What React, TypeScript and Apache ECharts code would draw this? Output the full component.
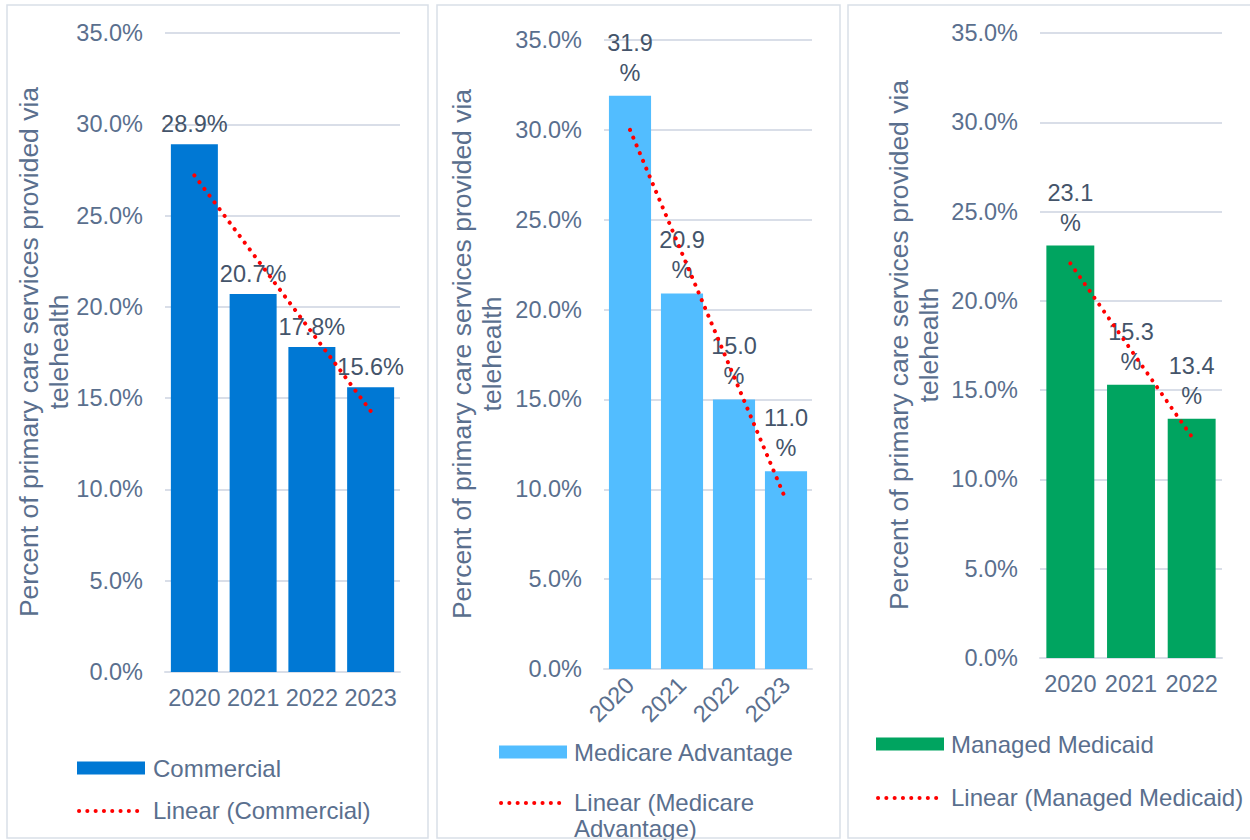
import React, { useEffect, useRef } from "react";
import * as echarts from "echarts";

// ---- Data ----
const yearsA = ["2020", "2021", "2022", "2023"];
const yearsB = ["2020", "2021", "2022", "2023"];
const yearsC = ["2020", "2021", "2022"];

const commercial = [28.9, 20.7, 17.8, 15.6];
const commercialTrend = [27.2, null, null, 14.3];

const medicare = [31.9, 20.9, 15.0, 11.0];
const medicareTrend = [30.0, null, null, 9.4];

const medicaid = [23.1, 15.3, 13.4];
const medicaidTrend = [22.1, null, 12.4];

const yMax = 35;
const yInterval = 5;

const yTitle = "Percent of primary care services provided via\ntelehealth";

const FONT = "'Liberation Sans', Arial, sans-serif";
const TICK_COLOR = "#5A6F8E";
const LABEL_COLOR = "#44546A";
const GRID_COLOR = "#D9DEE8";
const TREND_COLOR = "#FF0000";

export default function App() {
  const ref = useRef<HTMLDivElement>(null);

  useEffect(() => {
    if (!ref.current) return;
    const chart = echarts.init(ref.current, null, { renderer: "svg" });

    const grids = [
      { left: 165, width: 235, top: 33, height: 639 },
      { left: 604, width: 208, top: 40, height: 629 },
      { left: 1040, width: 182, top: 33, height: 625 },
    ];
    const cats = [yearsA, yearsB, yearsC];
    const bars = [commercial, medicare, medicaid];
    const trends = [commercialTrend, medicareTrend, medicaidTrend];
    const names = ["Commercial", "Medicare Advantage", "Managed Medicaid"];
    const colors = ["#0078D4", "#52BDFF", "#00A460"];
    const gaps = ["20%", "19%", "21%"];

    const xAxis = cats.map((c, i) => ({
      type: "category",
      gridIndex: i,
      data: c,
      axisTick: { show: false },
      axisLine: { lineStyle: { color: GRID_COLOR, width: 2 } },
      axisLabel: {
        color: TICK_COLOR,
        fontSize: 23.5,
        fontFamily: FONT,
        margin: i === 1 ? 12 : 14,
        rotate: i === 1 ? 45 : 0,
        interval: 0,
      },
    }));

    const yAxis = cats.map((_, i) => ({
      type: "value",
      gridIndex: i,
      min: 0,
      max: yMax,
      interval: yInterval,
      axisLine: { show: false },
      axisTick: { show: false },
      splitLine: { lineStyle: { color: GRID_COLOR, width: 2 } },
      axisLabel: {
        color: TICK_COLOR,
        fontSize: 23.5,
        fontFamily: FONT,
        margin: 22,
        formatter: (v: number) => v.toFixed(1) + "%",
      },
    }));

    const series: any[] = [];
    bars.forEach((b, i) => {
      series.push({
        type: "bar",
        name: names[i],
        xAxisIndex: i,
        yAxisIndex: i,
        data: b,
        barCategoryGap: gaps[i],
        itemStyle: { color: colors[i] },
        label: {
          show: true,
          position: "top",
          distance: i === 0 ? 5 : 8,
          color: LABEL_COLOR,
          fontSize: 23.5,
          fontFamily: FONT,
          lineHeight: 30,
          formatter: (p: any) =>
            i === 0 ? p.value.toFixed(1) + "%" : p.value.toFixed(1) + "\n%",
        },
      });
      series.push({
        type: "line",
        name: "Linear (" + names[i] + ")",
        xAxisIndex: i,
        yAxisIndex: i,
        data: trends[i],
        connectNulls: true,
        symbol: "none",
        z: 5,
        lineStyle: {
          color: TREND_COLOR,
          width: 4,
          type: [0.1, 8.3],
          cap: "round",
        },
      });
    });

    const border = (x: number, w: number) => ({
      type: "rect",
      shape: { x, y: 5, width: w, height: 833 },
      style: { fill: "none", stroke: "#D9DFE8", lineWidth: 1.5 },
      silent: true,
    });

    const legendRect = (x: number, y: number, color: string) => ({
      type: "rect",
      shape: { x, y: y - 6.5, width: 68, height: 13 },
      style: { fill: color },
    });
    const legendDots = (x: number, y: number) => ({
      type: "line",
      shape: { x1: x + 2, y1: y, x2: x + 68, y2: y },
      style: {
        stroke: TREND_COLOR,
        lineWidth: 4,
        lineDash: [0.1, 8.2],
        lineCap: "round",
      },
    });
    const legendText = (x: number, y: number, text: string, lh = 28) => ({
      type: "text",
      x,
      y,
      style: {
        text,
        fill: TICK_COLOR,
        fontSize: 24,
        fontFamily: FONT,
        textAlign: "left",
        textVerticalAlign: "middle",
        lineHeight: lh,
      },
    });
    const titleText = (x: number, y: number) => ({
      type: "text",
      x,
      y,
      rotation: Math.PI / 2,
      style: {
        text: yTitle,
        fill: TICK_COLOR,
        fontSize: 26.5,
        fontFamily: FONT,
        textAlign: "center",
        textVerticalAlign: "middle",
        lineHeight: 30,
      },
    });

    const graphic = [
      border(7, 421),
      border(437, 403),
      border(848, 420),
      titleText(44, 352),
      titleText(477, 354),
      titleText(914, 345),
      legendRect(77, 768, colors[0]),
      legendText(153, 768, "Commercial"),
      legendDots(77, 811),
      legendText(153, 810, "Linear (Commercial)"),
      legendRect(499, 752, colors[1]),
      legendText(574, 752, "Medicare Advantage"),
      legendDots(499, 803),
      legendText(574, 815, "Linear (Medicare\nAdvantage)", 26),
      legendRect(876, 744, colors[2]),
      legendText(951, 744, "Managed Medicaid"),
      legendDots(876, 798),
      legendText(951, 797, "Linear (Managed Medicaid)"),
    ];

    chart.setOption({
      animation: false,
      backgroundColor: "#FFFFFF",
      grid: grids.map((g) => ({ ...g, containLabel: false })),
      xAxis,
      yAxis,
      series,
      graphic,
    });

    return () => chart.dispose();
  }, []);

  return (
    <div
      ref={ref}
      style={{ position: "absolute", left: 0, top: 0, width: 1250, height: 840 }}
    />
  );
}
